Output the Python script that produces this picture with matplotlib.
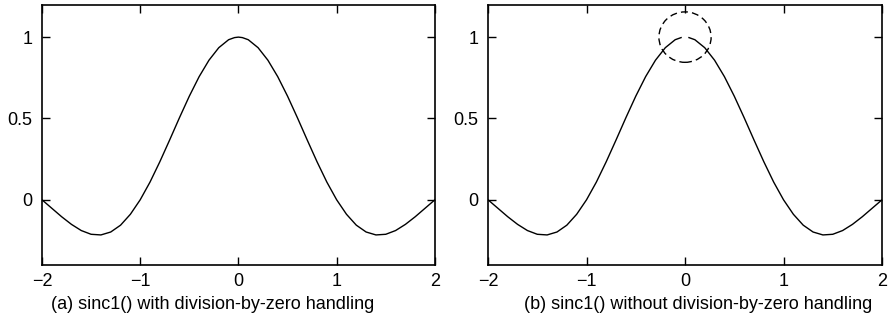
import numpy as np
import matplotlib
matplotlib.use("Agg")
import matplotlib.pyplot as plt
from matplotlib.patches import Ellipse

plt.rcParams['font.family'] = ['Liberation Sans', 'DejaVu Sans']

x_vals = [-2.0, -1.9, -1.8, -1.7, -1.6, -1.5, -1.4, -1.3, -1.2, -1.1,
          -1.0, -0.9, -0.8, -0.7, -0.6, -0.5, -0.4, -0.3, -0.2, -0.1,
          -0.04, 0.0, 0.04,
          0.1, 0.2, 0.3, 0.4, 0.5, 0.6, 0.7, 0.8, 0.9, 1.0,
          1.1, 1.2, 1.3, 1.4, 1.5, 1.6, 1.7, 1.8, 1.9, 2.0]
y_with = [0.0, -0.052, -0.104, -0.151, -0.189, -0.212, -0.216, -0.198, -0.156, -0.089,
          0.0, 0.109, 0.234, 0.368, 0.505, 0.637, 0.757, 0.858, 0.935, 0.984,
          0.997, 1.0, 0.997,
          0.984, 0.935, 0.858, 0.757, 0.637, 0.505, 0.368, 0.234, 0.109, 0.0,
          -0.089, -0.156, -0.198, -0.216, -0.212, -0.189, -0.151, -0.104, -0.052, 0.0]
# same samples, but the point at x = 0 is missing (0/0)
y_without = [0.0, -0.052, -0.104, -0.151, -0.189, -0.212, -0.216, -0.198, -0.156, -0.089,
             0.0, 0.109, 0.234, 0.368, 0.505, 0.637, 0.757, 0.858, 0.935, 0.984,
             0.997, np.nan, 0.997,
             0.984, 0.935, 0.858, 0.757, 0.637, 0.505, 0.368, 0.234, 0.109, 0.0,
             -0.089, -0.156, -0.198, -0.216, -0.212, -0.189, -0.151, -0.104, -0.052, 0.0]

x_ticks = [-2, -1, 0, 1, 2]
y_ticks = [0, 0.5, 1]
y_ticklabels = ['0', '0.5', '1']
captions = ['(a) sinc1() with division-by-zero handling',
            '(b) sinc1() without division-by-zero handling']

fig = plt.figure(figsize=(8.93, 3.27), dpi=100)
ax1 = fig.add_axes([0.047, 0.19, 0.44, 0.796])
ax2 = fig.add_axes([0.5465, 0.19, 0.4412, 0.796])

for ax, y in [(ax1, y_with), (ax2, y_without)]:
    ax.plot(x_vals, y, color='black', lw=1.0)
    ax.set_xlim(-2, 2)
    ax.set_ylim(-0.4, 1.2)
    ax.set_xticks(x_ticks)
    ax.set_yticks(y_ticks)
    ax.set_yticklabels(y_ticklabels)
    ax.tick_params(direction='in', top=True, right=True, length=6, width=1,
                   labelsize=13)
    ax.tick_params(axis='y', pad=7)
    ax.tick_params(axis='x', pad=6)
    for s in ax.spines.values():
        s.set_linewidth(1.2)

# dashed circle marking the missing point
ax2.add_patch(Ellipse((0, 1), 0.53, 0.31, fill=False, ls=(0, (5, 3)),
                      lw=1.0, color='black'))

fig.text(0.2385, 0.07, captions[0], ha='center', va='center', fontsize=13)
fig.text(0.7816, 0.07, captions[1], ha='center', va='center', fontsize=13)

fig.savefig('out.png', dpi=100)
